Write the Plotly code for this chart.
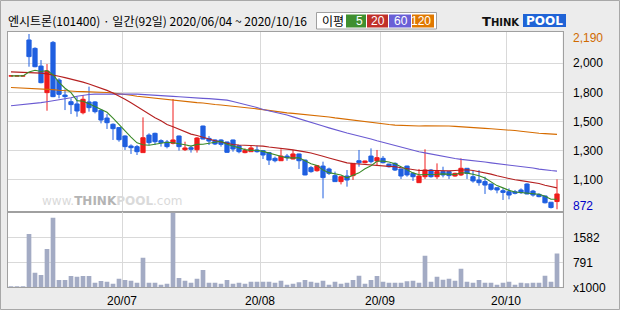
import numpy as np
import pandas as pd
import plotly.graph_objects as go

W, H = 620, 310

# ---- trading calendar (KRX, 2020/06/04 ~ 2020/10/16) ----
krx_holidays = pd.to_datetime(['2020-08-17', '2020-09-30', '2020-10-01', '2020-10-02', '2020-10-09'])
all_days = pd.bdate_range('2020-06-04', '2020-10-16')
trade_dates = all_days[~all_days.isin(krx_holidays)]

# ---- daily prices (KRW) ----
opens = [1875, 1875, 1875, 2145, 2082, 1949, 1749, 2127, 1844, 1731,
         1681, 1664, 1598, 1679, 1679, 1616, 1558, 1511, 1486, 1423,
         1348, 1343, 1298, 1430, 1443, 1388, 1378, 1368, 1423, 1320,
         1335, 1320, 1498, 1405, 1393, 1393, 1378, 1393, 1350, 1298,
         1305, 1318, 1313, 1298, 1255, 1237, 1272, 1250, 1288, 1242,
         1185, 1162, 1197, 1175, 1125, 1080, 1122, 1125, 1237, 1222,
         1272, 1235, 1255, 1212, 1217, 1175, 1197, 1142, 1072, 1117,
         1167, 1117, 1155, 1155, 1122, 1130, 1180, 1117, 1092, 1080,
         1062, 1034, 1012, 1004, 1004, 1017, 1062, 1009, 984, 972,
         925, 930]
highs = [1875, 1875, 1875, 2190, 2090, 1994, 1964, 2137, 1857, 1774,
         1706, 1719, 1731, 1794, 1685, 1623, 1588, 1518, 1490, 1428,
         1360, 1355, 1563, 1443, 1448, 1398, 1393, 1701, 1425, 1380,
         1350, 1415, 1500, 1423, 1398, 1398, 1380, 1395, 1355, 1330,
         1355, 1350, 1316, 1300, 1268, 1323, 1288, 1318, 1290, 1245,
         1197, 1205, 1230, 1185, 1155, 1118, 1167, 1217, 1318, 1237,
         1330, 1318, 1272, 1214, 1225, 1177, 1199, 1150, 1175, 1323,
         1175, 1217, 1192, 1157, 1147, 1255, 1182, 1160, 1167, 1117,
         1064, 1036, 1029, 1029, 1017, 1029, 1067, 1017, 992, 974,
         927, 1097]
lows = [1875, 1875, 1875, 1944, 1940, 1819, 1613, 1715, 1706, 1618,
        1588, 1568, 1586, 1606, 1593, 1518, 1476, 1393, 1380, 1318,
        1288, 1280, 1298, 1355, 1355, 1343, 1330, 1360, 1313, 1310,
        1298, 1298, 1398, 1355, 1355, 1343, 1298, 1305, 1293, 1293,
        1303, 1298, 1250, 1205, 1225, 1235, 1237, 1248, 1175, 1128,
        1147, 1155, 954, 1130, 1078, 1059, 1042, 1092, 1192, 1217,
        1217, 1197, 1217, 1185, 1160, 1100, 1117, 1085, 1070, 1100,
        1110, 1100, 1112, 1100, 1117, 1122, 1100, 1072, 1049, 987,
        1012, 992, 942, 947, 984, 987, 985, 967, 962, 916,
        878, 872]
closes = [1875, 1875, 1875, 2020, 1944, 1824, 1912, 1719, 1736, 1719,
          1659, 1611, 1699, 1636, 1606, 1543, 1523, 1478, 1395, 1343,
          1335, 1305, 1410, 1373, 1380, 1373, 1343, 1393, 1343, 1333,
          1323, 1408, 1400, 1385, 1363, 1360, 1300, 1325, 1305, 1313,
          1333, 1305, 1280, 1242, 1237, 1272, 1260, 1288, 1237, 1130,
          1155, 1200, 1110, 1142, 1080, 1117, 1092, 1217, 1222, 1235,
          1230, 1260, 1222, 1192, 1167, 1122, 1130, 1117, 1122, 1167,
          1117, 1155, 1130, 1125, 1142, 1180, 1142, 1085, 1072, 1054,
          1022, 1017, 999, 979, 992, 997, 987, 979, 967, 921,
          885, 987]

# ---- daily volume (shares) ----
volumes = [30000, 30000, 30000, 1686000, 462000, 389000, 1212000, 2203000, 231000, 231000,
           358000, 337000, 358000, 358000, 147000, 200000, 179000, 116000, 274000, 231000,
           210000, 147000, 938000, 147000, 147000, 84000, 116000, 2360000, 295000, 210000,
           147000, 274000, 547000, 147000, 147000, 116000, 231000, 116000, 147000, 116000,
           179000, 179000, 179000, 179000, 147000, 210000, 84000, 116000, 160000, 231000,
           178000, 147000, 210000, 84000, 178000, 116000, 147000, 231000, 368000, 116000,
           231000, 358000, 178000, 147000, 147000, 147000, 189000, 210000, 147000, 1001000,
           178000, 337000, 242000, 274000, 210000, 590000, 178000, 147000, 231000, 147000,
           147000, 84000, 147000, 178000, 84000, 147000, 126000, 147000, 147000, 368000,
           178000, 1070000]

# ---- moving averages (need history before the window) ----
ma5_head = [1875, 1875, 1875, 1904]
ma20_head = [1905, 1904, 1903, 1902, 1900, 1896, 1890, 1883, 1872, 1862,
             1852, 1841, 1828, 1814, 1799, 1783, 1766, 1747, 1725]
ma60 = [1651, 1655, 1658, 1663, 1668, 1674, 1681, 1688, 1695, 1700,
        1710, 1722, 1731, 1735, 1738, 1739, 1739, 1739, 1739, 1739,
        1739, 1738, 1736, 1733, 1730, 1727, 1724, 1721, 1718, 1714,
        1711, 1708, 1706, 1704, 1700, 1697, 1693, 1683, 1672, 1662,
        1651, 1637, 1622, 1613, 1603, 1592, 1581, 1567, 1552, 1540,
        1527, 1513, 1498, 1484, 1470, 1458, 1445, 1434, 1424, 1412,
        1400, 1387, 1375, 1364, 1352, 1339, 1326, 1314, 1305, 1296,
        1287, 1277, 1268, 1261, 1254, 1247, 1243, 1238, 1233, 1227,
        1221, 1216, 1212, 1207, 1202, 1196, 1189, 1182, 1174, 1167,
        1163, 1159]
ma120 = [1788, 1786, 1785, 1783, 1782, 1780, 1776, 1772, 1767, 1763,
         1760, 1758, 1757, 1756, 1755, 1753, 1750, 1746, 1742, 1736,
         1729, 1722, 1717, 1712, 1707, 1702, 1698, 1692, 1685, 1680,
         1677, 1674, 1671, 1664, 1660, 1656, 1652, 1648, 1644, 1640,
         1634, 1627, 1621, 1614, 1607, 1600, 1597, 1593, 1589, 1585,
         1582, 1577, 1572, 1566, 1559, 1553, 1548, 1541, 1535, 1528,
         1524, 1520, 1515, 1509, 1505, 1502, 1499, 1498, 1498, 1499,
         1500, 1500, 1500, 1498, 1495, 1493, 1489, 1486, 1483, 1480,
         1477, 1475, 1472, 1469, 1464, 1459, 1453, 1448, 1444, 1441,
         1438, 1435]

# ---- axis labels ----
price_grid_values = [1970, 1751, 1532, 1313, 1094]
price_grid_labels = ['2,000', '1,800', '1,500', '1,300', '1,100']
volume_grid_values = [0, 791000, 1582000]
volume_grid_labels = ['x1000', '791', '1582']
month_labels = ['20/07', '20/08', '20/09', '20/10']
ma_names = ['5', '20', '60', '120']

RED = '#f01c1c'
BLUE = '#1f5fe0'
VOLC = '#a3abc4'
GRID = '#d9d9d9'
BORDER = '#a0a0a0'
MA_COLORS = ['#3a8a28', '#b52020', '#6a5ad2', '#d66c00']
LEG_COLORS = ['#3f8f2f', '#c0302a', '#6a5fd6', '#e07800']

n = len(trade_dates)
x = np.arange(n)
cl = pd.Series(closes, dtype=float)
ma5 = cl.rolling(5).mean().to_numpy()
ma5[:len(ma5_head)] = ma5_head
ma20 = cl.rolling(20).mean().to_numpy()
ma20[:len(ma20_head)] = ma20_head

month_pos = [i - 0.5 for i in range(1, n) if trade_dates[i].month != trade_dates[i - 1].month]


def px(v):
    return v / W


def py(v):
    return 1 - v / H


fig = go.Figure()
for vals, col in zip([ma120, ma60, ma20, ma5], MA_COLORS[::-1]):
    fig.add_trace(go.Scatter(x=x, y=vals, mode='lines', line=dict(color=col, width=1.1),
                             hoverinfo='skip', xaxis='x', yaxis='y'))
fig.add_trace(go.Candlestick(
    x=x, open=opens, high=highs, low=lows, close=closes,
    increasing=dict(line=dict(color=RED, width=1), fillcolor=RED),
    decreasing=dict(line=dict(color=BLUE, width=1), fillcolor=BLUE),
    whiskerwidth=0, xaxis='x', yaxis='y', hoverinfo='skip'))
fig.add_trace(go.Bar(x=x, y=volumes, width=0.78, marker=dict(color=VOLC, line=dict(width=0)),
                     xaxis='x2', yaxis='y2', hoverinfo='skip'))

xr = [(7.5 - 11) / 6, (562.5 - 11) / 6]
xdom = [px(7.5), px(562.5)]
common_x = dict(range=xr, domain=xdom, showgrid=True, gridcolor=GRID, gridwidth=1,
                tickmode='array', tickvals=month_pos, zeroline=False, showline=True,
                linecolor=BORDER, linewidth=1, mirror=True, ticks='', fixedrange=True,
                automargin=False)
tick_font = dict(family='Liberation Sans', size=12, color='#000000')
value_at = lambda y: 2190 - (y - 34) * 7.52

fig.update_layout(
    width=W, height=H, margin=dict(l=0, r=0, t=0, b=0, pad=0, autoexpand=False),
    paper_bgcolor='#ececec', plot_bgcolor='#ffffff', showlegend=False,
    boxgap=0.1, boxgroupgap=0.22, hovermode=False,
    xaxis=dict(**common_x, anchor='y', showticklabels=False, rangeslider=dict(visible=False)),
    xaxis2=dict(**common_x, anchor='y2', ticktext=month_labels, tickfont=tick_font,
                ticklabelstandoff=2),
    yaxis=dict(domain=[py(212.3), py(32)], range=[value_at(212.3), value_at(32)], side='right',
               anchor='x', tickmode='array', tickvals=price_grid_values, ticktext=price_grid_labels,
               showgrid=True, gridcolor=GRID, showline=True, mirror=True, linecolor=BORDER,
               zeroline=False, ticks='', tickfont=tick_font, ticklabelstandoff=7, fixedrange=True,
               automargin=False),
    yaxis2=dict(domain=[py(287.3), py(212.3)], range=[0, (287.3 - 212.3) / 25 * 791000], side='right',
                anchor='x2', tickmode='array', tickvals=volume_grid_values, ticktext=volume_grid_labels,
                showgrid=True, gridcolor=GRID, showline=True, mirror=True, linecolor=BORDER,
                zeroline=False, ticks='', tickfont=tick_font, ticklabelstandoff=7, fixedrange=True,
                automargin=False),
)

annotations = []
shapes = []
# title
title = f"엔시트론(101400) · 일간({n}일) {trade_dates[0]:%Y/%m/%d} ~ {trade_dates[-1]:%Y/%m/%d}"
annotations.append(dict(text=title, x=px(6), y=py(20.5), xref='paper', yref='paper', xanchor='left',
                        yanchor='middle', showarrow=False,
                        font=dict(family='Noto Sans CJK KR', size=12, color='#000000')))
# max / min price labels
hi, lo = max(highs), min(lows)
annotations.append(dict(text=f"{hi:,}", x=px(570.5), y=hi, xref='paper', yref='y', xanchor='left',
                        yanchor='middle', yshift=-4, showarrow=False,
                        font=dict(family='Liberation Sans', size=12, color='#d06a00')))
annotations.append(dict(text=f"{lo:,}", x=px(570.5), y=lo, xref='paper', yref='y', xanchor='left',
                        yanchor='middle', yshift=3, showarrow=False,
                        font=dict(family='Liberation Sans', size=12, color='#0000c8')))
# MA legend box
shapes.append(dict(type='rect', xref='paper', yref='paper', x0=px(316.5), x1=px(436.5),
                   y0=py(29), y1=py(12.5), fillcolor='#ffffff', line=dict(color=BORDER, width=1)))
annotations.append(dict(text='이평', x=px(320), y=py(20.5), xref='paper', yref='paper', xanchor='left',
                        yanchor='middle', showarrow=False,
                        font=dict(family='Noto Sans CJK KR', size=12, color='#000000')))
box_x = [(346, 366), (367, 388), (389, 411), (412, 434)]
for (a, b), name, col in zip(box_x, ma_names, LEG_COLORS):
    shapes.append(dict(type='rect', xref='paper', yref='paper', x0=px(a), x1=px(b), y0=py(27.5),
                       y1=py(14.5), fillcolor=col, line=dict(width=0)))
    annotations.append(dict(text=name, x=px(b - 1), y=py(21), xref='paper', yref='paper',
                            xanchor='right', yanchor='middle', showarrow=False,
                            font=dict(family='Liberation Sans', size=12, color='#ffffff')))
# THINKPOOL logo
annotations.append(dict(text="<b>T<span style='font-size:10px'>HINK</span></b>", x=px(522), y=py(21),
                        xref='paper', yref='paper', xanchor='right', yanchor='middle', showarrow=False,
                        font=dict(family='DejaVu Sans', size=13, color='#111111')))
shapes.append(dict(type='rect', xref='paper', yref='paper', x0=px(523), x1=px(566), y0=py(27),
                   y1=py(14), fillcolor='#1f63d6', line=dict(width=0)))
annotations.append(dict(text="<b>POOL</b>", x=px(544.5), y=py(20.8), xref='paper', yref='paper',
                        xanchor='center', yanchor='middle', showarrow=False,
                        font=dict(family='DejaVu Sans', size=12, color='#ffffff')))
# watermark
annotations.append(dict(text="www.<b><span style='color:#b4b4b4'>THINK</span>POOL</b>.com",
                        x=px(40), y=py(201), xref='paper', yref='paper', xanchor='left',
                        yanchor='middle', showarrow=False,
                        font=dict(family='DejaVu Sans', size=12, color='#dadada')))
# outer frame
shapes.append(dict(type='rect', xref='paper', yref='paper', x0=px(0.5), x1=px(619.5), y0=py(309.5),
                   y1=py(0.5), line=dict(color='#a8a8a8', width=1), fillcolor='rgba(0,0,0,0)'))

fig.update_layout(annotations=annotations, shapes=shapes)
fig.write_html("out.html")
